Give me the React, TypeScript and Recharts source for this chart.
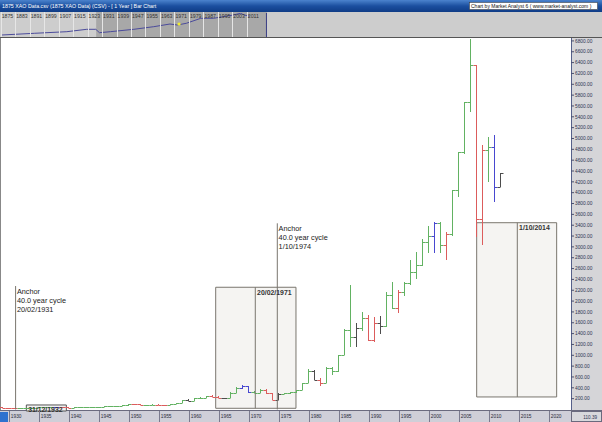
import React from "react";
import {
  ComposedChart,
  Bar,
  XAxis,
  YAxis,
  ReferenceArea,
  ReferenceLine,
  ReferenceDot,
  LineChart,
  Line,
} from "recharts";

// yearly bars, 1929 .. 2012
const firstYear = 1929;

const opens = [
  38,
  33, 24, 22, 25, 30, 34, 38, 42, 44, 40,
  38, 36, 39, 40, 44, 46, 50, 56, 60, 66,
  74, 98, 92, 78, 80, 88, 86, 84, 104, 122,
  170, 165, 205, 218, 249, 238, 210, 206, 310, 402,
  434, 328, 312, 360, 298, 180, 292, 300, 318, 360,
  485, 710, 548, 495, 760, 716, 1005, 1467, 1330, 1497,
  1682, 1282, 1600, 1540, 2113, 1867, 2174, 2329, 2543, 2666,
  3096, 3201, 3435, 3035, 3232, 4050, 4757, 5680, 6356, 3515,
  4788, 4849, 4111,
];
const highs = [
  40,
  34, 26, 27, 31, 35, 39, 43, 46, 45, 41,
  39, 40, 41, 45, 47, 51, 57, 61, 67, 75,
  102, 110, 94, 84, 92, 95, 90, 106, 124, 172,
  200, 210, 225, 252, 262, 242, 218, 318, 410, 450,
  440, 345, 372, 372, 305, 300, 310, 325, 365, 495,
  740, 730, 590, 775, 790, 1010, 1480, 2297, 1600, 1790,
  1750, 1700, 1720, 2160, 2350, 2200, 2350, 2750, 2900, 3150,
  3386, 3466, 3460, 3281, 4050, 4757, 5680, 6830, 6356, 4880,
  5034, 5065, 4369,
];
const lows = [
  31,
  23, 19, 20, 24, 29, 33, 37, 40, 38, 35,
  33, 35, 36, 39, 43, 45, 49, 54, 58, 64,
  72, 88, 74, 74, 78, 84, 80, 83, 102, 120,
  150, 155, 190, 215, 232, 205, 196, 204, 300, 380,
  310, 300, 305, 290, 172, 176, 280, 290, 305, 355,
  480, 540, 440, 480, 640, 700, 1000, 1159, 1160, 1450,
  1270, 1250, 1400, 1520, 1850, 1775, 2100, 2300, 2400, 2650,
  2882, 2882, 2882, 2758, 3200, 3927, 4720, 5494, 3188, 3035,
  4204, 3834, 4111,
];
const closes = [
  33,
  24, 22, 25, 30, 34, 38, 42, 44, 40, 38,
  36, 39, 40, 44, 46, 50, 56, 60, 66, 74,
  98, 92, 78, 80, 88, 86, 84, 104, 122, 170,
  165, 205, 218, 249, 238, 210, 206, 310, 402, 434,
  328, 312, 360, 298, 180, 292, 300, 318, 360, 485,
  710, 548, 495, 760, 716, 1005, 1467, 1330, 1497, 1682,
  1282, 1600, 1540, 2113, 1867, 2174, 2329, 2543, 2666, 3096,
  3201, 3435, 3035, 3232, 4050, 4757, 5680, 6356, 3515, 4788,
  4849, 4111, 4369,
];
// g = up, r = down, b / k = the other bar colours Market Analyst uses
const barColours = [
  "r",
  "r", "r", "g", "g", "g", "g", "g", "g", "b", "r",
  "r", "g", "g", "g", "g", "g", "g", "g", "g", "g",
  "g", "r", "r", "g", "g", "r", "r", "g", "g", "g",
  "k", "g", "g", "g", "r", "r", "k", "g", "g", "b",
  "b", "g", "g", "r", "r", "k", "g", "g", "g", "g",
  "g", "k", "r", "g", "g", "g", "g", "g", "k", "g",
  "r", "r", "k", "g", "g", "r", "g", "g", "g", "g",
  "g", "b", "g", "r", "g", "g", "g", "g", "r", "r",
  "g", "b", "k",
];

const xTicks = [1930, 1935, 1940, 1945, 1950, 1955, 1960, 1965, 1970, 1975, 1980, 1985, 1990, 1995, 2000, 2005, 2010, 2015, 2020];
const yTicks = [
  200, 400, 600, 800, 1000, 1200, 1400, 1600, 1800, 2000, 2200, 2400, 2600, 2800, 3000, 3200, 3400,
  3600, 3800, 4000, 4200, 4400, 4600, 4800, 5000, 5200, 5400, 5600, 5800, 6000, 6200, 6400, 6600, 6800,
];

// overview strip at the top
const navYears = [1875, 1893, 1911, 1922, 1927, 1929, 1935, 1948, 1959, 1968, 1972, 1977, 1985, 1992, 2003, 2007, 2009, 2012];
const navLevels = [2, 3.7, 5.3, 7.7, 7.7, 4.3, 5.3, 7.7, 10.3, 13, 12, 13.7, 18.7, 18.7, 22, 23.7, 22, 21];
const navTicks = [1875, 1883, 1891, 1899, 1907, 1915, 1923, 1931, 1939, 1947, 1955, 1963, 1971, 1979, 1987, 1995, 2003, 2011];

// cycle annotations
const cycleBoxes = [
  { from: 1964.55, to: 1977.93, mid: 1971.15, low: 22, high: 2255, label: "20/02/1971" },
  { from: 2008.05, to: 2021.38, mid: 2014.82, low: 231, high: 3446, label: "1/10/2014" },
];
const anchors = [
  { at: 1931.2, top: 2278, date: "20/02/1931" },
  { at: 1974.82, top: 3435, date: "1/10/1974" },
];

const colourOf: Record<string, string> = {
  g: "#62b262",
  r: "#dc5c5c",
  b: "#4848d0",
  k: "#4c4c4c",
};

const FONT = "Liberation Sans, Arial, sans-serif";

const rows = opens.map((o, i) => ({
  year: firstYear + i,
  range: [lows[i], highs[i]],
  open: o,
  high: highs[i],
  low: lows[i],
  close: closes[i],
  colour: barColours[i],
}));

const navRows = navYears.map((y, i) => ({ year: y, level: navLevels[i] }));

const OhlcBar = (props: any) => {
  const { x, y, width, height, payload } = props;
  if (x == null || y == null || !payload) return null;
  const top = Math.min(y, y + height);
  const bottom = Math.max(y, y + height);
  const span = payload.high - payload.low || 1;
  const at = (v: number) => top + ((payload.high - v) / span) * (bottom - top);
  const cx = Math.round(x + width / 2) + 0.5;
  const yo = Math.round(at(payload.open)) + 0.5;
  const yc = Math.round(at(payload.close)) + 0.5;
  return (
    <g stroke={colourOf[payload.colour]} strokeWidth={1}>
      <line x1={cx} x2={cx} y1={Math.round(top)} y2={Math.max(Math.round(bottom), Math.round(top) + 1)} />
      <line x1={cx - 3} x2={cx} y1={yo} y2={yo} />
      <line x1={cx} x2={cx + 3} y1={yc} y2={yc} />
    </g>
  );
};

const XTick = (props: any) => {
  const { x, payload } = props;
  const lx = Math.round(x + 0.9) + 0.5;
  return (
    <g>
      <line x1={lx} x2={lx} y1={374} y2={385} stroke="#7a7a8e" />
      <text x={lx + 1.3} y={381.3} fontSize={4.8} fill="#2a2a3a" fontFamily={FONT}>
        {payload.value}
      </text>
    </g>
  );
};

const YTick = (props: any) => {
  const { y, payload } = props;
  return (
    <g>
      <line x1={571} x2={574} y1={y} y2={y} stroke="#4a5070" />
      <text x={575} y={y + 1.7} fontSize={4.8} fill="#2d3452" fontFamily={FONT}>
        {payload.value.toFixed(2)}
      </text>
    </g>
  );
};

const NavTick = (props: any) => {
  const { x, payload } = props;
  const lx = Math.round(x - 1) + 0.5;
  return (
    <g>
      <line x1={lx} x2={lx} y1={0} y2={25} stroke="#e6e6e6" />
      <text x={x} y={5.8} fontSize={5.2} fill="#333" fontFamily={FONT}>
        {payload.value}
      </text>
    </g>
  );
};

const anchorLabel = (date: string) => (p: any) => {
  const vb = p.viewBox || {};
  const x = vb.x + 1.3;
  const y = vb.y + 7.5;
  return (
    <text x={x} y={y} fontSize={7.3} fill="#222" fontFamily={FONT}>
      <tspan x={x} y={y}>Anchor</tspan>
      <tspan x={x} y={y + 9.3}>40.0 year cycle</tspan>
      <tspan x={x} y={y + 18.6}>{date}</tspan>
    </text>
  );
};

const boxLabel = (label: string) => (p: any) => {
  const vb = p.viewBox || {};
  return (
    <text x={vb.x + 1.8} y={vb.y + 7.4} fontSize={6.9} fontWeight="bold" fill="#333" fontFamily={FONT}>
      {label}
    </text>
  );
};

export default function App() {
  return (
    <div style={{ position: "absolute", left: 0, top: 0, width: 602, height: 422, overflow: "hidden" }}>
      <svg width={602} height={422} style={{ position: "absolute", left: 0, top: 0 }}>
        <defs>
          <linearGradient id="titleBar" x1="0" y1="0" x2="0" y2="1">
            <stop offset="0" stopColor="#4b83cd" />
            <stop offset="0.5" stopColor="#1b4f9f" />
            <stop offset="1" stopColor="#0f3c86" />
          </linearGradient>
        </defs>
        <rect x={0} y={0} width={602} height={12} fill="url(#titleBar)" />
        <text x={2} y={8.3} fontSize={5.3} fill="#fff" fontFamily={FONT}>
          1875 XAO Data.csv (1875 XAO Data) (CSV) - [ 1 Year ] Bar Chart
        </text>
        <rect x={469.5} y={2.5} width={128} height={7} fill="#fff" stroke="#333" strokeWidth={0.5} />
        <text x={471} y={7.9} fontSize={5} fill="#111" fontFamily={FONT}>
          Chart by Market Analyst 6 ( www.market-analyst.com )
        </text>
        <rect x={0} y={12} width={602} height={25} fill="#cdcdcd" />
        <line x1={0} x2={602} y1={37.5} y2={37.5} stroke="#555" />
        <rect x={0} y={38} width={571} height={373} fill="#fff" />
        <line x1={0.5} x2={0.5} y1={38} y2={411} stroke="#888" />
        <rect x={571} y={38} width={31} height={373} fill="#d5d5d8" />
        <line x1={571.5} x2={571.5} y1={38} y2={411} stroke="#56608a" />
        <rect x={0} y={411} width={602} height={11} fill="#cfcfd8" />
        <line x1={0} x2={602} y1={410.5} y2={410.5} stroke="#6a6a7e" />
        <rect x={0} y={412} width={8} height={10} fill="#2f72cf" />
        <rect x={571.5} y={411.5} width={30} height={10} fill="#d8d8dc" stroke="#6a6a7e" />
        <text x={597} y={418.8} fontSize={4.6} textAnchor="end" fill="#2d3452" fontFamily={FONT}>
          110.39
        </text>
      </svg>

      <div style={{ position: "absolute", left: 0, top: 12 }}>
        <LineChart width={267} height={25} data={navRows} margin={{ top: 0, right: 0, bottom: 0, left: 0 }}>
          <XAxis
            type="number"
            dataKey="year"
            orientation="top"
            domain={[1874.06, 2021.6]}
            allowDataOverflow
            ticks={navTicks}
            interval={0}
            height={1}
            axisLine={false}
            tickLine={false}
            tick={NavTick}
          />
          <YAxis hide domain={[0, 24]} allowDataOverflow />
          <ReferenceArea x1={1927.2} x2={2021.6} y1={0} y2={25} ifOverflow="visible" fill="#a8a8a8" fillOpacity={1} />
          <ReferenceLine x={2021.3} stroke="#3b3f86" />
          <Line type="linear" dataKey="level" stroke="#4b4b9b" strokeWidth={1} dot={false} isAnimationActive={false} />
          <ReferenceDot x={1973} y={13} r={1.6} fill="#f2ee2a" stroke="none" />
        </LineChart>
      </div>

      <div style={{ position: "absolute", left: 0, top: 37 }}>
        <ComposedChart width={602} height={385} data={rows} margin={{ top: 1, right: 0, bottom: 0, left: 0 }}>
          <XAxis
            type="number"
            dataKey="year"
            domain={[1928.6, 2023.77]}
            allowDataOverflow
            ticks={xTicks}
            interval={0}
            height={11}
            axisLine={false}
            tickLine={false}
            tick={XTick}
          />
          <YAxis
            orientation="right"
            domain={[-28, 6854]}
            allowDataOverflow
            ticks={yTicks}
            interval={0}
            width={31}
            axisLine={false}
            tickLine={false}
            tick={YTick}
          />
          {cycleBoxes.map((b) => (
            <ReferenceArea
              key={b.label}
              x1={b.from}
              x2={b.to}
              y1={b.low}
              y2={b.high}
              fill="#f5f4f2"
              fillOpacity={1}
              stroke="#7a766e"
              strokeWidth={1}
            />
          ))}
          <ReferenceArea x1={1932.99} x2={1939.66} y1={-28} y2={83} fill="#f1f1f1" fillOpacity={1} stroke="#555" strokeWidth={1} />
          <Bar dataKey="range" barSize={6} shape={OhlcBar} isAnimationActive={false} />
          {cycleBoxes.map((b) => (
            <ReferenceLine
              key={"d" + b.label}
              segment={[
                { x: b.mid, y: b.low },
                { x: b.mid, y: b.high },
              ]}
              stroke="#7a766e"
            />
          ))}
          {cycleBoxes.map((b) => (
            <ReferenceDot key={"t" + b.label} x={b.mid} y={b.high} r={0} fill="none" stroke="none" label={boxLabel(b.label)} />
          ))}
          {anchors.map((a) => (
            <ReferenceLine
              key={a.date}
              segment={[
                { x: a.at, y: 0 },
                { x: a.at, y: a.top },
              ]}
              stroke="#7a766e"
            />
          ))}
          {anchors.map((a) => (
            <ReferenceDot key={"l" + a.date} x={a.at} y={a.top} r={0} fill="none" stroke="none" label={anchorLabel(a.date)} />
          ))}
          <ReferenceDot x={1932.99} y={83} r={0} fill="none" stroke="none" label={boxLabel("31/12/1932")} />
        </ComposedChart>
      </div>
    </div>
  );
}
